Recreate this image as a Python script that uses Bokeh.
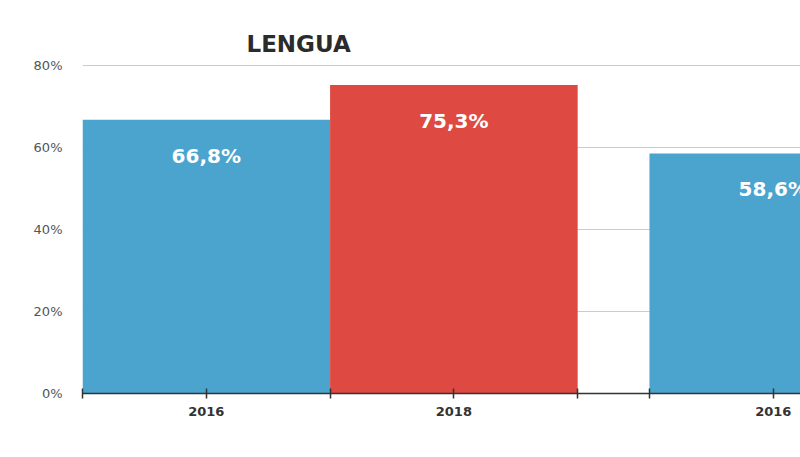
from bokeh.plotting import figure
from bokeh.models import Range1d, FixedTicker, ColumnDataSource, LabelSet, Title
from bokeh.core.properties import value
from bokeh.embed import file_html
from bokeh.resources import INLINE

# data
years = ["2016", "2018", "2016"]
values = [66.8, 75.3, 58.6]
labels = ["66,8%", "75,3%", "58,6%"]
centers = [0.5, 1.5, 2.79]
colors = ["#4BA4CE", "#DE4A41", "#4BA4CE"]
y_ticks = [0, 20, 40, 60, 80]

FONT = "DejaVu Sans"

p = figure(width=800, height=449, output_backend="svg", toolbar_location=None,
           x_range=Range1d(0, 2.9), y_range=Range1d(0, 80.3),
           min_border_left=82, min_border_right=0, min_border_bottom=56, min_border_top=64)

t = Title(text="LENGUA", text_font=FONT, text_font_size="23px", text_font_style="bold",
          text_color="#2b2b2b", align="left", offset=164, standoff=15)
p.add_layout(t, "above")

src = ColumnDataSource(dict(x=centers, top=values, color=colors, label=labels))
p.vbar(x="x", top="top", width=1.0, bottom=0, color="color", line_color=None, source=src)

lbl = LabelSet(x="x", y="top", text="label", source=src, y_offset=-36,
               text_align="center", text_baseline="middle", text_color="white",
               text_font=value(FONT), text_font_style="bold", text_font_size="20px")
p.add_layout(lbl)

# y axis
p.yaxis.ticker = FixedTicker(ticks=y_ticks)
p.yaxis.major_label_overrides = {v: f"{v}%" for v in y_ticks}
p.yaxis.axis_line_color = None
p.yaxis.major_tick_line_color = None
p.yaxis.minor_tick_line_color = None
p.yaxis.major_label_text_font = FONT
p.yaxis.major_label_text_font_size = "13px"
p.yaxis.major_label_text_color = "#555555"
p.yaxis.major_label_standoff = 14

# x axis
bounds = []
for c in centers:
    bounds += [c - 0.5, c + 0.5]
xt = sorted(set([round(b, 3) for b in bounds] + centers))
p.xaxis.ticker = FixedTicker(ticks=xt)
ov = {}
for v in xt:
    ov[v] = ""
for c, y in zip(centers, years):
    ov[c] = y
p.xaxis.major_label_overrides = ov
p.xaxis.axis_line_color = "#333333"
p.xaxis.axis_line_width = 1.5
p.xaxis.major_tick_line_color = "#333333"
p.xaxis.major_tick_line_width = 1.5
p.xaxis.major_tick_in = 5
p.xaxis.major_tick_out = 5
p.xaxis.minor_tick_line_color = None
p.xaxis.major_label_text_font = FONT
p.xaxis.major_label_text_font_style = "bold"
p.xaxis.major_label_text_font_size = "13px"
p.xaxis.major_label_text_color = "#333333"
p.xaxis.major_label_standoff = 8

p.xgrid.grid_line_color = None
p.ygrid.grid_line_color = "#cccccc"
p.ygrid.grid_line_width = 1
p.outline_line_color = None

open("out.html", "w").write(file_html(p, INLINE))
